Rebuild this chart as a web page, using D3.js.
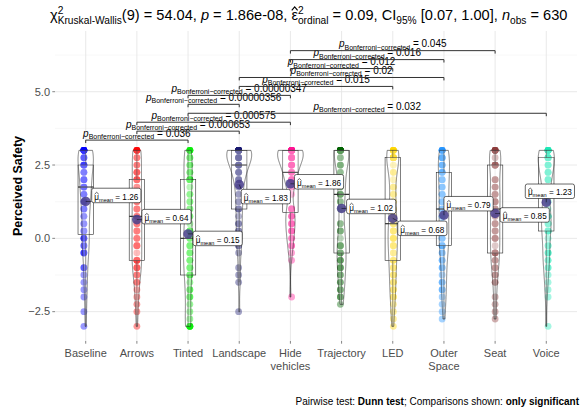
<!DOCTYPE html>
<html>
<head>
<meta charset="utf-8">
<script src="https://cdn.jsdelivr.net/npm/d3@7"></script>
<style>
  body { margin: 0; background: #fff; }
  svg { display: block; }
  text { font-family: "Liberation Sans", Arial, Helvetica, sans-serif; white-space: pre; }
</style>
</head>
<body>
<svg id="chart" width="584" height="411"></svg>
<script>
// ---- data -----------------------------------------------------------------
const categories = ["Baseline", "Arrows", "Tinted", "Landscape", "Hide vehicles",
                    "Trajectory", "LED", "Outer Space", "Seat", "Voice"];
const tickLabels = [["Baseline"], ["Arrows"], ["Tinted"], ["Landscape"], ["Hide", "vehicles"],
                    ["Trajectory"], ["LED"], ["Outer", "Space"], ["Seat"], ["Voice"]];
const groupColors = ["#0000FF", "#FF0000", "#00EE00", "#191970", "#FF1493",
                     "#006400", "#FFD700", "#1E90FF", "#8B3A3A", "#1DE9B6"];

// Safety ratings (mean of four items, -3 … 3) and how many participants gave each score
const scoreLevels = [3, 2.75, 2.5, 2.25, 2, 1.75, 1.5, 1.25, 1, 0.75, 0.5, 0.25, 0,
                     -0.25, -0.5, -0.75, -1, -1.25, -1.5, -1.75, -2, -2.25, -2.5, -2.75, -3];
const countsBaseline   = [12, 3, 6, 3, 4, 4, 3, 3, 3, 2, 2, 2, 3, 2, 3, 0, 2, 1, 1, 1, 1, 0, 1, 0, 1];
const countsArrows     = [7, 2, 2, 3, 4, 2, 3, 3, 3, 3, 3, 3, 3, 4, 1, 5, 3, 2, 2, 1, 1, 1, 1, 0, 1];
const countsTinted     = [6, 2, 2, 2, 5, 1, 2, 2, 2, 2, 1, 4, 3, 3, 3, 3, 3, 3, 1, 2, 2, 1, 1, 1, 6];
const countsLandscape  = [20, 6, 6, 4, 4, 2, 2, 2, 3, 1, 2, 2, 2, 2, 1, 0, 1, 1, 1, 0, 0, 0, 1, 0, 0];
const countsHide       = [19, 6, 6, 4, 5, 2, 1, 0, 4, 3, 3, 3, 2, 2, 1, 1, 0, 0, 0, 0, 1, 0, 0, 0, 0];
const countsTrajectory = [17, 2, 3, 2, 2, 2, 4, 2, 1, 0, 2, 3, 1, 4, 3, 3, 3, 2, 2, 2, 2, 1, 0, 0, 0];
const countsLED        = [8, 9, 1, 2, 1, 2, 2, 2, 2, 2, 3, 3, 4, 3, 2, 3, 2, 2, 2, 2, 2, 1, 1, 1, 1];
const countsOuter      = [6, 4, 3, 4, 3, 3, 3, 3, 3, 3, 3, 3, 3, 4, 2, 2, 2, 1, 2, 2, 1, 1, 1, 1, 0];
const countsSeat       = [9, 1, 7, 0, 3, 3, 3, 4, 3, 2, 3, 3, 4, 1, 5, 2, 2, 2, 2, 0, 1, 1, 1, 1, 0];
const countsVoice      = [10, 7, 4, 4, 4, 2, 2, 2, 1, 5, 3, 4, 1, 2, 3, 2, 2, 1, 1, 1, 1, 0, 0, 0, 1];
const groupCounts = [countsBaseline, countsArrows, countsTinted, countsLandscape, countsHide,
                     countsTrajectory, countsLED, countsOuter, countsSeat, countsVoice];

// Significant Dunn comparisons, listed from the lowest bracket to the highest
const compGroup1 = ["Baseline", "Arrows", "Arrows", "Tinted", "Tinted", "Tinted",
                    "Landscape", "Landscape", "Hide vehicles", "Hide vehicles", "Hide vehicles"];
const compGroup2 = ["Tinted", "Landscape", "Hide vehicles", "Voice", "Landscape", "Hide vehicles",
                    "LED", "Outer Space", "LED", "Outer Space", "Seat"];
const compP = ["0.036", "0.000653", "0.000575", "0.032", "0.00000356", "0.00000347",
               "0.015", "0.02", "0.012", "0.016", "0.045"];

const yTicks = [-2.5, 0, 2.5, 5];
const yMinorTicks = [-1.25, 1.25, 3.75, 6.25];

// ---- layout ----------------------------------------------------------------
const W = 584, H = 411;
const panel = { left: 55, right: 577, top: 31, bottom: 341 };
// where each mean label sits relative to its mean point (left edge dx, centre dy)
const labelOffsets = [[6, -6], [5, -3], [5, 4.5], [2, 12], [4, -2],
                      [5, -2], [5, 10], [0, -11.5], [5, 1.5], [-21, -11]];
const bracketBase = 3.35, bracketStep = 0.305, bracketTip = 0.1;
const densityAdjust = 0.7;

const svg = d3.select("#chart");
const x = d3.scalePoint().domain(categories).range([panel.left, panel.right]).padding(0.6);
const y = d3.scaleLinear().domain([-3.5, 7.07]).range([panel.bottom, panel.top]);
const step = x.step();

// rich text: runs of text with sizes, baseline shifts, italics, hats, stacked sub/superscripts
function rich(parent, parts, opt) {
  const g = parent.append("g");
  const fill = opt.fill || "#000";
  let cx = 0;
  const put = (p, x0) => {
    const t = g.append("text")
      .attr("xml:space", "preserve")
      .attr("x", x0).attr("y", p.dy || 0)
      .attr("font-size", p.s)
      .attr("font-style", p.i ? "italic" : null)
      .attr("font-weight", p.b ? "bold" : null)
      .attr("fill", fill)
      .text(p.t);
    const w = t.node().getComputedTextLength();
    if (p.hat) {
      const base = (p.dy || 0) - p.s * 0.66;
      g.append("path")
        .attr("d", `M${x0 + w * 0.05},${base}L${x0 + w / 2},${base - p.s * 0.24}L${x0 + w * 0.95},${base}`)
        .attr("fill", "none").attr("stroke", fill)
        .attr("stroke-width", Math.max(0.6, p.s * 0.075));
    }
    return w + (p.gap || 0);
  };
  for (const p of parts) {
    if (p.stack) cx += Math.max(...p.stack.map(q => put(q, cx)));
    else cx += put(p, cx);
  }
  const dx = opt.anchor === "middle" ? -cx / 2 : opt.anchor === "end" ? -cx : 0;
  g.attr("transform", `translate(${opt.x + dx},${opt.y})`);
  return { g, width: cx };
}

// ---- per-group statistics --------------------------------------------------
const groups = categories.map((cat, i) => {
  const values = [];
  groupCounts[i].forEach((c, j) => { for (let k = 0; k < c; k++) values.push(scoreLevels[j]); });
  const sorted = values.slice().sort(d3.ascending);
  const q1 = d3.quantileSorted(sorted, 0.25), med = d3.quantileSorted(sorted, 0.5), q3 = d3.quantileSorted(sorted, 0.75);
  const iqr = q3 - q1;
  const lo = d3.min(sorted.filter(v => v >= q1 - 1.5 * iqr));
  const hi = d3.max(sorted.filter(v => v <= q3 + 1.5 * iqr));
  const n = values.length, sd = d3.deviation(values);
  const bw = densityAdjust * 0.9 * Math.min(sd, iqr > 0 ? iqr / 1.34 : sd) * Math.pow(n, -0.2);
  const mn = sorted[0], mx = sorted[n - 1];
  const dens = d3.range(512).map(k => {
    const v = mn + (mx - mn) * k / 511;
    let s = 0;
    for (const xi of values) { const u = (v - xi) / bw; s += Math.exp(-0.5 * u * u); }
    return { v, d: s / (n * bw * Math.sqrt(2 * Math.PI)) };
  });
  return { cat, i, values, q1, med, q3, lo, hi, mean: d3.mean(values), dens, color: groupColors[i] };
});
const maxDens = d3.max(groups, g => d3.max(g.dens, d => d.d));

// ---- grid ------------------------------------------------------------------
const grid = svg.append("g");
grid.selectAll(".ymin").data(yMinorTicks).join("line")
  .attr("x1", panel.left).attr("x2", panel.right)
  .attr("y1", d => y(d)).attr("y2", d => y(d))
  .attr("stroke", "#F2F2F2").attr("stroke-width", 0.6);
grid.selectAll(".ymaj").data(yTicks).join("line")
  .attr("x1", panel.left).attr("x2", panel.right)
  .attr("y1", d => y(d)).attr("y2", d => y(d))
  .attr("stroke", "#E6E6E6").attr("stroke-width", 0.9);
grid.selectAll(".xmaj").data(categories).join("line")
  .attr("x1", d => x(d)).attr("x2", d => x(d))
  .attr("y1", panel.top).attr("y2", panel.bottom)
  .attr("stroke", "#E6E6E6").attr("stroke-width", 0.9);

// ---- axes ------------------------------------------------------------------
const yAxis = svg.append("g");
yAxis.selectAll("line").data(yTicks).join("line")
  .attr("x1", panel.left - 2.7).attr("x2", panel.left)
  .attr("y1", d => y(d)).attr("y2", d => y(d))
  .attr("stroke", "#333").attr("stroke-width", 0.6);
yAxis.selectAll("text").data(yTicks).join("text")
  .attr("x", panel.left - 5).attr("y", d => y(d) + 3.8)
  .attr("text-anchor", "end").attr("font-size", 11).attr("fill", "#4D4D4D")
  .text(d3.format(".1f"));

const xAxis = svg.append("g");
xAxis.selectAll("line").data(categories).join("line")
  .attr("x1", d => x(d)).attr("x2", d => x(d))
  .attr("y1", panel.bottom).attr("y2", panel.bottom + 2.7)
  .attr("stroke", "#333").attr("stroke-width", 0.6);
xAxis.selectAll("text").data(categories).join("text")
  .attr("text-anchor", "middle").attr("font-size", 11).attr("fill", "#4D4D4D")
  .each(function (d, i) {
    d3.select(this).selectAll("tspan").data(tickLabels[i]).join("tspan")
      .attr("x", x(d)).attr("y", (l, k) => panel.bottom + 16 + k * 12.5).text(l => l);
  });

svg.append("text")
  .attr("transform", `translate(22,${(panel.top + panel.bottom) / 2}) rotate(-90)`)
  .attr("text-anchor", "middle").attr("font-size", 12.5).attr("font-weight", "bold")
  .text("Perceived Safety");

// ---- raw observations --------------------------------------------------------
const pts = svg.append("g");
groups.forEach(g => {
  const seen = {};
  g.values.forEach(v => {
    const r = seen[v] = (seen[v] || 0) + 1;
    const jit = (((r * 7 + g.i * 3) % 7) - 3) * 0.6;
    pts.append("circle")
      .attr("cx", x(g.cat) + jit).attr("cy", y(v)).attr("r", 3.4)
      .attr("fill", g.color).attr("fill-opacity", 0.4);
  });
});

// ---- boxplots ----------------------------------------------------------------
const boxW = 0.3 * step;
const boxes = svg.append("g").attr("stroke", "#2B2B2B").attr("stroke-width", 0.6);
groups.forEach(g => {
  const cx = x(g.cat);
  boxes.append("line").attr("x1", cx).attr("x2", cx).attr("y1", y(g.q3)).attr("y2", y(g.hi));
  boxes.append("line").attr("x1", cx).attr("x2", cx).attr("y1", y(g.q1)).attr("y2", y(g.lo));
  boxes.append("rect").attr("x", cx - boxW / 2).attr("width", boxW)
    .attr("y", y(g.q3)).attr("height", y(g.q1) - y(g.q3))
    .attr("fill", "#fff").attr("fill-opacity", 0.2);
  boxes.append("line").attr("x1", cx - boxW / 2).attr("x2", cx + boxW / 2)
    .attr("y1", y(g.med)).attr("y2", y(g.med)).attr("stroke-width", 1.2);
});

// ---- violins -----------------------------------------------------------------
const halfMax = 0.25 * step;
const violins = svg.append("g");
groups.forEach(g => {
  const cx = x(g.cat);
  const area = d3.area()
    .y(d => y(d.v))
    .x0(d => cx - halfMax * d.d / maxDens)
    .x1(d => cx + halfMax * d.d / maxDens);
  violins.append("path").attr("d", area(g.dens))
    .attr("fill", "#fff").attr("fill-opacity", 0.2)
    .attr("stroke", "#2B2B2B").attr("stroke-width", 0.6);
});

// ---- means: point, leader and label -------------------------------------------
const means = svg.append("g");
groups.forEach(g => {
  const px = x(g.cat), py = y(g.mean);
  means.append("circle").attr("cx", px).attr("cy", py).attr("r", 4.8)
    .attr("fill", "#483D8B").attr("fill-opacity", 0.85);
});
const labels = svg.append("g");
groups.forEach(g => {
  const px = x(g.cat), py = y(g.mean);
  const [ox, oy] = labelOffsets[g.i];
  const left = px + ox, cy = py + oy, h = 14.5, pad = 2.6;
  const lg = labels.append("g");
  const seg = lg.append("line").attr("stroke", "#000").attr("stroke-width", 0.5);
  const rect = lg.append("rect").attr("rx", 2).attr("ry", 2)
    .attr("fill", "#fff").attr("stroke", "#000").attr("stroke-width", 0.6);
  const t = rich(lg, [
    { t: "\u03bc", s: 8.2, hat: true },
    { t: "mean", s: 5.6, dy: 2 },
    { t: " = " + d3.format(".2f")(g.mean), s: 8.2 }
  ], { x: left + pad, y: cy + 4.2 });
  const w = t.width + 2 * pad;
  rect.attr("x", left).attr("y", cy - h / 2).attr("width", w).attr("height", h);
  const nx = Math.max(left, Math.min(px, left + w));
  const ny = Math.max(cy - h / 2, Math.min(py, cy + h / 2));
  seg.attr("x1", px).attr("y1", py).attr("x2", nx).attr("y2", ny);
});

// ---- pairwise brackets ---------------------------------------------------------
const brackets = svg.append("g");
compP.forEach((p, k) => {
  const x1 = x(compGroup1[k]), x2 = x(compGroup2[k]);
  const yb = y(bracketBase + bracketStep * k), yt = y(bracketBase + bracketStep * k - bracketTip);
  brackets.append("path")
    .attr("d", `M${x1},${yt}L${x1},${yb}L${x2},${yb}L${x2},${yt}`)
    .attr("fill", "none").attr("stroke", "#333").attr("stroke-width", 1);
  rich(brackets, [
    { t: "p", s: 10, i: true },
    { t: "Bonferroni\u2212corrected", s: 7, dy: 2.5 },
    { t: " = " + p, s: 10 }
  ], { x: (x1 + x2) / 2, y: yb - 3.5, anchor: "middle" });
});

// ---- title and caption -----------------------------------------------------------
const ts = 14.6, ss = 10.2;
rich(svg, [
  { t: "\u03c7", s: ts },
  { stack: [{ t: "2", s: ss, dy: -6.5 }, { t: "Kruskal-Wallis", s: ss, dy: 4 }] },
  { t: "(9) = 54.04, ", s: ts },
  { t: "p", s: ts, i: true },
  { t: " = 1.86e-08, ", s: ts },
  { t: "\u03b5", s: ts, hat: true },
  { stack: [{ t: "2", s: ss, dy: -6.5 }, { t: "ordinal", s: ss, dy: 4 }] },
  { t: " = 0.09, CI", s: ts },
  { t: "95%", s: ss, dy: 4 },
  { t: " [0.07, 1.00], ", s: ts },
  { t: "n", s: ts, i: true },
  { t: "obs", s: ss, dy: 4 },
  { t: " = 630", s: ts }
], { x: 50, y: 20 });

rich(svg, [
  { t: "Pairwise test: ", s: 10 },
  { t: "Dunn test", s: 10, b: true },
  { t: "; Comparisons shown: ", s: 10 },
  { t: "only significant", s: 10, b: true }
], { x: 579, y: 405, anchor: "end" });
</script>
</body>
</html>
